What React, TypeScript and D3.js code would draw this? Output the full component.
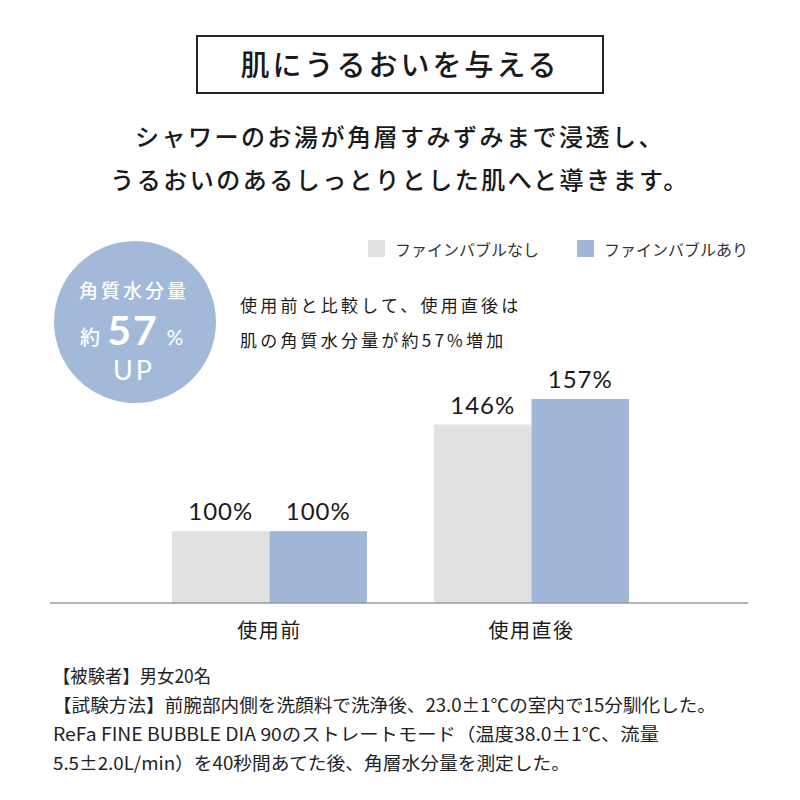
import React from "react";
import * as d3 from "d3";

const categories = ["使用前", "使用直後"];
const seriesNames = ["ファインバブルなし", "ファインバブルあり"];
const seriesColors = ["#e1e1e1", "#a0b7da"];
const valuesWithout = [100, 146];
const valuesWith = [100, 157];
const title = "肌にうるおいを与える";
const subtitleLines = [
  "シャワーのお湯が角層すみずみまで浸透し、",
  "うるおいのあるしっとりとした肌へと導きます。",
];
const noteLines = [
  "使用前と比較して、使用直後は",
  "肌の角質水分量が約57%増加",
];
const footLines = [
  "【被験者】男女20名",
  "【試験方法】前腕部内側を洗顔料で洗浄後、23.0±1℃の室内で15分馴化した。",
  "ReFa FINE BUBBLE DIA 90のストレートモード（温度38.0±1℃、流量",
  "5.5±2.0L/min）を40秒間あてた後、角層水分量を測定した。",
];
const footWidths = [158, 663, 606, 517];

const JP = "'Noto Sans CJK JP', 'Noto Sans', sans-serif";
const NUM = "Lato, 'Noto Sans', sans-serif";

export default function App() {
  const W = 800, H = 800;
  const baseY = 603;
  const x0 = d3.scaleBand<string>().domain(categories).range([138.5, 662.5]).paddingInner(0.256).paddingOuter(0.128);
  const x1 = d3.scaleBand<number>().domain([0, 1]).range([0, x0.bandwidth()]).padding(0);
  const y = d3.scaleLinear().domain([69, 157]).range([baseY, 399]);
  const series = [valuesWithout, valuesWith];

  return (
    <svg width={W} height={H} viewBox={`0 0 ${W} ${H}`} style={{ position: "absolute", left: 0, top: 0, background: "#fff" }}>
      <rect x={0} y={0} width={W} height={H} fill="#fff" />
      {/* Title box */}
      <rect x={197} y={36} width={406} height={57} fill="none" stroke="#222" strokeWidth={2} />
      <text x={400} y={76} textAnchor="middle" fontFamily={JP} fontSize={29} fontWeight={500} fill="#1a1a1a" letterSpacing={3}>{title}</text>
      {subtitleLines.map((s, i) => (
        <text key={i} x={400} y={146 + i * 43} textAnchor="middle" fontFamily={JP} fontSize={24} fontWeight={500} fill="#1a1a1a" letterSpacing={2.5}>{s}</text>
      ))}
      {/* Legend */}
      {seriesNames.map((n, i) => (
        <g key={i} transform={`translate(${368 + i * 209},240)`}>
          <rect x={0} y={0} width={17} height={17} fill={seriesColors[i]} />
          <text x={27} y={16} fontFamily={JP} fontSize={16} fill="#333">{n}</text>
        </g>
      ))}
      {/* Circle badge */}
      <circle cx={135} cy={322} r={81} fill="#a3b9da" />
      <text x={134} y={298} textAnchor="middle" fontFamily={JP} fontSize={19} fontWeight={500} fill="#fff" letterSpacing={3}>角質水分量</text>
      <text x={90} y={345} textAnchor="middle" fontFamily={JP} fontSize={20} fontWeight={500} fill="#fff">約</text>
      <text x={133} y={345} textAnchor="middle" fontFamily={NUM} fontSize={41} fontWeight={700} fill="#fff" letterSpacing={2}>57</text>
      <text x={175} y={345} textAnchor="middle" fontFamily={NUM} fontSize={21} fill="#fff">%</text>
      <text x={134} y={380} textAnchor="middle" fontFamily={NUM} fontSize={27} fill="#fff" letterSpacing={3}>UP</text>
      {/* Note */}
      {noteLines.map((s, i) => (
        <text key={i} x={240} y={312 + i * 35} fontFamily={JP} fontSize={17} fill="#1a1a1a" letterSpacing={3.2}>{s}</text>
      ))}
      {/* Bars */}
      {categories.map((c, ci) => (
        <g key={c} transform={`translate(${x0(c)},0)`}>
          {series.map((vals, si) => (
            <g key={si}>
              <rect x={x1(si)} y={y(vals[ci])} width={x1.bandwidth()} height={baseY - y(vals[ci])} fill={seriesColors[si]} />
              <text x={(x1(si) as number) + x1.bandwidth() / 2} y={y(vals[ci]) - 11} textAnchor="middle" fontFamily={NUM} fontSize={24} fontWeight={400} fill="#1a1a1a" letterSpacing={1}>{vals[ci]}%</text>
            </g>
          ))}
          <text x={x0.bandwidth() / 2} y={638} textAnchor="middle" fontFamily={JP} fontSize={20} fill="#1a1a1a" letterSpacing={1.5}>{c}</text>
        </g>
      ))}
      <line x1={50} x2={748} y1={baseY} y2={baseY} stroke="#999" strokeWidth={1.5} />
      {/* Footnotes */}
      {footLines.map((s, i) => (
        <text key={i} x={53} y={683 + i * 29} fontFamily={JP} fontSize={18} fill="#222" textLength={footWidths[i]} lengthAdjust="spacingAndGlyphs">{s}</text>
      ))}
    </svg>
  );
}
